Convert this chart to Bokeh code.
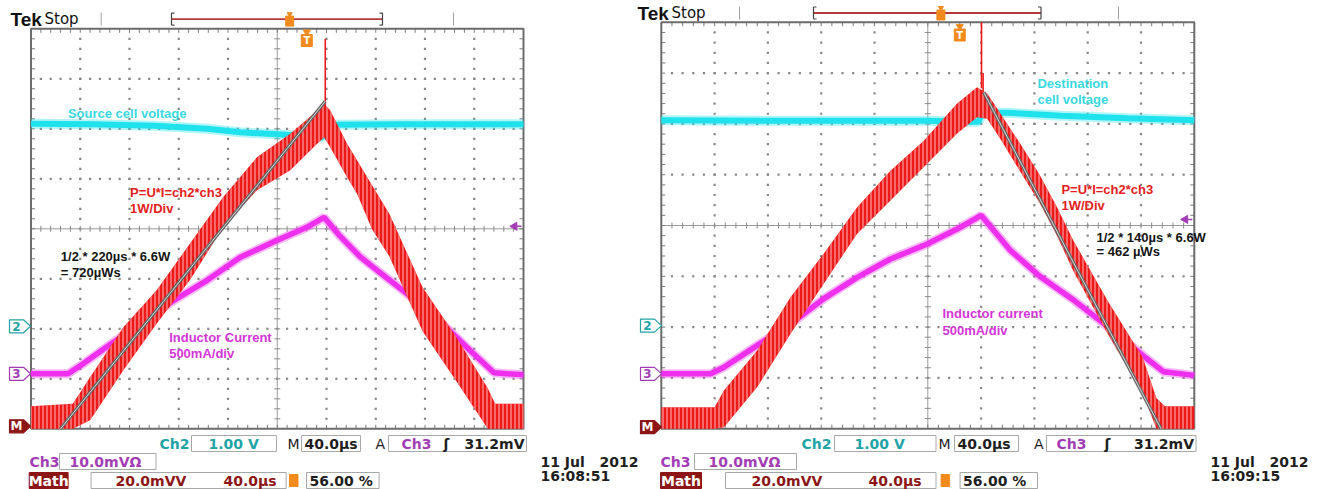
import numpy as np
from bokeh.plotting import figure
from bokeh.models import Range1d
from bokeh.core.properties import value
from bokeh.embed import file_html
from bokeh.resources import INLINE

# ---------------- values read from the two screen captures ----------------
# x: time in µs (40 µs/div, screen centre = 0 µs); y: screen divisions (-4 .. 4)
TRIGGER_POS_PCT = 56.0

# Left capture (source cell, 16:08:51)
L_cyan_t = [-200, -150, -100, -57, -30, 0, 20, 37, 39, 45, 100, 150, 200]
L_cyan_y = [2.10, 2.09, 2.06, 2.00, 1.93, 1.89, 1.86, 1.83, 2.00, 2.08, 2.09, 2.09, 2.09]
L_mag_t = [-200, -170, -160, -139, -111, -84, -57, -30, 0, 24, 38, 50, 67, 77, 105, 132, 159, 176, 200]
L_mag_y = [-2.90, -2.90, -2.74, -2.37, -1.90, -1.43, -1.03, -0.57, -0.23, 0.03, 0.23,
           -0.12, -0.55, -0.75, -1.29, -1.85, -2.49, -2.88, -2.92]
L_red_t = [-200, -166, -152, -125, -98, -71, -44, -16.5, 10.6, 29.5, 38, 43, 56.7, 64.8,
           77, 91, 118, 145.5, 171, 177, 200]
L_red_hi = [-3.55, -3.50, -2.97, -1.97, -1.23, -0.30, 0.63, 1.43, 1.90, 2.30, 2.50, 2.37,
            1.70, 1.37, 0.87, 0.30, -1.17, -2.17, -3.19, -3.50, -3.50]
L_red_lo = [-4.0, -4.0, -3.83, -2.83, -1.90, -1.03, 0.03, 0.77, 1.17, 1.63, 1.83, 1.63,
            1.03, 0.70, -0.01, -0.55, -2.05, -3.05, -4.0, -4.0, -4.0]
L_spike_t, L_spike_lo, L_spike_hi = [39.0], [2.45], [3.80]
L_fit_t, L_fit_y = [-176, 39], [-4.0, 2.55]

# Right capture (destination cell, 16:09:15)
R_cyan_t = [-200, -100, 0, 30, 38, 41, 60, 100, 150, 200]
R_cyan_y = [2.07, 2.06, 2.06, 2.04, 2.04, 2.22, 2.22, 2.16, 2.11, 2.07]
R_mag_t = [-200, -163, -153, -128, -103, -78, -53, -28, 0, 22, 40, 62, 84, 109, 136, 161, 177, 200]
R_mag_y = [-2.92, -2.92, -2.79, -2.36, -1.94, -1.44, -1.02, -0.66, -0.36, -0.07, 0.20,
           -0.49, -1.00, -1.46, -2.01, -2.55, -2.88, -2.95]
R_red_t = [-200, -160, -153, -128, -103, -78, -53, -28, -3, 22, 37, 44.6, 54.6, 70.8, 83.9,
           96.6, 109.3, 135.4, 161.3, 171.6, 178, 200]
R_red_hi = [-3.58, -3.58, -3.25, -2.46, -1.41, -0.55, 0.36, 1.08, 1.67, 2.40, 2.72, 2.60,
            2.20, 1.55, 1.00, 0.38, -0.30, -1.50, -2.60, -3.40, -3.56, -3.56]
R_red_lo = [-4.0, -4.0, -3.97, -3.18, -2.13, -1.14, -0.16, 0.49, 1.15, 1.81, 2.13, 2.10,
            1.70, 1.00, 0.45, -0.18, -0.90, -2.15, -3.30, -4.0, -4.0, -4.0]
R_spike_t, R_spike_lo, R_spike_hi = [40.3, 41.5], [2.70, 2.60], [4.00, 3.00]
R_fit_t, R_fit_y = [42, 175], [2.62, -4.0]

# reference markers (divisions) and trigger level, per capture [left, right]
CH2_GND = [-1.95, -1.97]
CH3_GND = [-2.90, -2.92]
MATH_REF = [-3.95, -3.97]
TRIG_LEVEL = [0.05, 0.12]

# in-screen annotations: (t, div, text)
L_notes = {
    "cyan": [(-170, 2.31, "Source cell voltage")],
    "red": [(-119.5, 0.73, "P=U*I=ch2*ch3"), (-119.5, 0.41, "1W/Div")],
    "black": [(-175.8, -0.55, "1/2 * 220µs * 6.6W"), (-175.8, -0.87, "= 720µWs")],
    "mag": [(-87.8, -2.18, "Inductor Current"), (-87.8, -2.50, "500mA/div")],
}
R_notes = {
    "cyan": [(82.3, 2.80, "Destination"), (82.3, 2.48, "cell voltage")],
    "red": [(100.3, 0.71, "P=U*I=ch2*ch3"), (100.3, 0.39, "1W/Div")],
    "black": [(126.6, -0.23, "1/2 * 140µs * 6.6W"), (126.6, -0.51, "= 462 µWs")],
    "mag": [(11, -1.73, "Inductor current"), (11, -2.07, "500mA/div")],
}

# read-outs
CH2_SCALE = "1.00 V"
CH3_SCALE = "10.0mVΩ"
MATH_SCALE = ["20.0mVV", "40.0µs"]
TIMEBASE = "40.0µs"
TRIG_TXT = "31.2mV"
POS_TXT = "56.00 %"
DATES = ["11 Jul\u00a0\u00a0 2012", "11 Jul\u00a0\u00a0 2012"]
TIMES = ["16:08:51", "16:09:15"]

# ---------------- page geometry ----------------
W, H = 1329, 489
REF_X0 = 0.0
REF_Y0 = 0.0
KY = 1.0

def cx(rx):
    return rx - REF_X0

def cy(ry):
    return (ry - REF_Y0) * KY


class Panel:
    def __init__(self, left, right, top, bottom):
        self.ppx = (right - left) / 400.0
        self.ppy = (cy(bottom) - cy(top)) / 8.0
        self.x_start = -200 - cx(left) / self.ppx
        self.x_end = self.x_start + W / self.ppx
        self.y_end = 4 + cy(top) / self.ppy
        self.y_start = self.y_end - H / self.ppy

    def X(self, rx):
        return self.x_start + cx(rx) / self.ppx

    def Y(self, ry):
        return self.y_end - cy(ry) / self.ppy

    def dx(self, px):
        return px / self.ppx

    def dy(self, px):
        return px / self.ppy


LP = Panel(30.5, 523.0, 28.3, 428.3)
RP = Panel(660.8, 1193.8, 21.8, 428.2)

p = figure(width=W, height=H, x_range=Range1d(LP.x_start, LP.x_end),
           y_range=Range1d(LP.y_start, LP.y_end), x_axis_type=None, y_axis_type=None,
           toolbar_location=None, output_backend="svg", min_border=0)
p.outline_line_color = None
p.background_fill_color = "white"
p.border_fill_color = "white"
p.extra_x_ranges = {"rx": Range1d(RP.x_start, RP.x_end)}
p.extra_y_ranges = {"ry": Range1d(RP.y_start, RP.y_end)}

CYAN = "#1fe2ec"
MAG = "#ee30ee"
RED = "#ee1a1a"
TEAL = "#22a3a6"
PURPLE = "#a23db5"
DARKRED = "#8c1616"
ORANGE = "#f28a1e"
BLACK = "#1e1e1e"
GRID = "#7c7c7c"
BOXLINE = "#a8a8a8"

RO_FONT = value("DejaVu Sans")
NOTE_FONT = value("Liberation Sans")


def txt(kw, x, y, s, color, size="14px", font=RO_FONT, style="bold", align="left"):
    p.text(x=[x], y=[y], text=[s], text_color=color, text_font=font, text_font_size=size,
           text_font_style=style, text_align=align, text_baseline="middle", **kw)


def draw_panel(P, kw, d, idx):
    # ---- graticule ----
    vx = [-160, -120, -80, -40, 40, 80, 120, 160]
    ys = np.arange(-3.8, 3.81, 0.2)
    dots_x = [x for x in vx for _ in ys]
    dots_y = [y for _ in vx for y in ys]
    hy = [-3, -2, -1, 1, 2, 3]
    xs = np.arange(-192, 192.1, 8)
    dots_x += [x for _ in hy for x in xs]
    dots_y += [y for y in hy for _ in xs]
    p.scatter(dots_x, dots_y, marker="square", size=2.2, fill_color="#888888", line_color=None, **kw)
    p.segment(x0=[-200, 0], y0=[0, -4], x1=[200, 0], y1=[0, 4], line_color="#9a9a9a",
              line_width=1, **kw)
    tt = np.arange(-192, 192.1, 8)
    p.segment(x0=tt, y0=-P.dy(3), x1=tt, y1=P.dy(3), line_color="#8a8a8a", line_width=1, **kw)
    tv = np.arange(-3.8, 3.81, 0.2)
    p.segment(x0=-P.dx(3), y0=tv, x1=P.dx(3), y1=tv, line_color="#8a8a8a", line_width=1, **kw)
    p.segment(x0=tt, y0=4, x1=tt, y1=4 - P.dy(4), line_color=GRID, line_width=1, **kw)
    p.segment(x0=tt, y0=-4, x1=tt, y1=-4 + P.dy(4), line_color=GRID, line_width=1, **kw)
    p.segment(x0=-200, y0=tv, x1=-200 + P.dx(4), y1=tv, line_color=GRID, line_width=1, **kw)
    p.segment(x0=200, y0=tv, x1=200 - P.dx(4), y1=tv, line_color=GRID, line_width=1, **kw)
    p.quad(left=[-200], right=[200], bottom=[-4], top=[4], fill_color=None,
           line_color="#6c6c6c", line_width=2, **kw)

    # ---- traces ----
    p.line(d["cyan_t"], d["cyan_y"], line_color=CYAN, line_width=10, line_alpha=0.35, **kw)
    p.line(d["cyan_t"], d["cyan_y"], line_color=CYAN, line_width=6, **kw)
    p.line(d["mag_t"], d["mag_y"], line_color=MAG, line_width=9, line_alpha=0.35, **kw)
    p.line(d["mag_t"], d["mag_y"], line_color=MAG, line_width=5.5, **kw)
    p.varea(x=d["red_t"], y1=d["red_lo"], y2=d["red_hi"], fill_color=RED,
            hatch_pattern="vertical_line", hatch_color="#ff9d9d", hatch_scale=4,
            hatch_weight=1.2, **kw)
    p.segment(x0=d["spike_t"], y0=d["spike_lo"], x1=d["spike_t"], y1=d["spike_hi"],
              line_color=RED, line_width=1.6, **kw)
    p.line(d["fit_t"], d["fit_y"], line_color="#666666", line_width=3.4, **kw)
    p.line(d["fit_t"], d["fit_y"], line_color="#d6d6d6", line_width=1, **kw)

    # ---- annotations ----
    cols = {"cyan": "#37d9e2", "red": "#e52020", "black": "#151515", "mag": "#d535d8"}
    for key, items in d["notes"].items():
        for (x, y, s) in items:
            txt(kw, x, y, s, cols[key], size="13px", font=NOTE_FONT)

    # ---- left-edge channel markers ----
    mx0, mx1, mx2 = d["mark_x"]
    for yc, fill, edge, lab, tcol in [(CH2_GND[idx], "white", TEAL, "2", TEAL),
                                      (CH3_GND[idx], "white", PURPLE, "3", PURPLE),
                                      (MATH_REF[idx], DARKRED, DARKRED, "M", "white")]:
        h = P.dy(6.5)
        p.patch([P.X(mx0), P.X(mx1), P.X(mx2), P.X(mx1), P.X(mx0)],
                [yc + h, yc + h, yc, yc - h, yc - h], fill_color=fill, line_color=edge,
                line_width=1.2, **kw)
        txt(kw, (P.X(mx0) + P.X(mx1)) / 2, yc, lab, tcol, size="12px", align="center")

    # ---- trigger level arrow (right edge) ----
    tl = TRIG_LEVEL[idx]
    p.segment(x0=[200 - P.dx(9)], y0=[tl], x1=[200 - P.dx(2)], y1=[tl], line_color=PURPLE,
              line_width=1.5, **kw)
    p.scatter([200 - P.dx(9)], [tl], marker="triangle", size=8, angle=np.pi / 2,
              fill_color=PURPLE, line_color=PURPLE, **kw)

    # ---- trigger position marker (top of screen) ----
    tpos = -200 + TRIGGER_POS_PCT / 100.0 * 400
    ttop = d["tmark_top"]
    p.scatter([tpos], [P.Y(ttop + 2.5)], marker="inverted_triangle", size=7,
              fill_color=ORANGE, line_color=ORANGE, **kw)
    p.quad(left=[tpos - P.dx(5.5)], right=[tpos + P.dx(5.5)], top=[P.Y(ttop + 5)],
           bottom=[P.Y(ttop + 17)], fill_color=ORANGE, line_color=ORANGE, **kw)
    txt(kw, tpos, P.Y(ttop + 11), "T", "white", size="10px", align="center")

    # ---- header ----
    hy_ = d["head_y"]
    txt(kw, P.X(d["tek_x"]), P.Y(hy_), "Tek", "#111111", size="19px",
        font=value("Liberation Sans"))
    txt(kw, P.X(d["tek_x"] + 34), P.Y(hy_), "Stop", "#111111", size="15px", style="normal")
    for tx in d["head_ticks"]:
        p.segment(x0=[P.X(tx)], y0=[P.Y(hy_ - 6.5)], x1=[P.X(tx)], y1=[P.Y(hy_ + 6.5)],
                  line_color="#a0a0a0", line_width=1, **kw)
    b0, b1 = d["bracket"]
    p.segment(x0=[P.X(b0)], y0=[P.Y(hy_)], x1=[P.X(b1)], y1=[P.Y(hy_)],
              line_color="#b43a3a", line_width=1.8, **kw)
    for bx, sgn in [(b0, 1), (b1, -1)]:
        p.segment(x0=[P.X(bx), P.X(bx), P.X(bx)],
                  y0=[P.Y(hy_ - 6), P.Y(hy_ - 6), P.Y(hy_ + 6)],
                  x1=[P.X(bx), P.X(bx + sgn * 3), P.X(bx + sgn * 3)],
                  y1=[P.Y(hy_ + 6), P.Y(hy_ - 6), P.Y(hy_ + 6)],
                  line_color="#444444", line_width=1.2, **kw)
    ux = b0 + TRIGGER_POS_PCT / 100.0 * (b1 - b0)
    p.scatter([P.X(ux)], [P.Y(hy_ - 5)], marker="inverted_triangle", size=5,
              fill_color=ORANGE, line_color=ORANGE, **kw)
    p.quad(left=[P.X(ux - 4)], right=[P.X(ux + 4)], top=[P.Y(hy_ - 3)], bottom=[P.Y(hy_ + 7)],
           fill_color=ORANGE, line_color=ORANGE, **kw)

    # ---- read-outs ----
    r1, r2, r3 = 443, 461, 480
    def box(l, r, yc, fill="white", line=BOXLINE):
        p.quad(left=[P.X(l)], right=[P.X(r)], top=[P.Y(yc - 8)], bottom=[P.Y(yc + 8)],
               fill_color=fill, line_color=line, line_width=1, **kw)
    o = d["ro"]
    txt(kw, P.X(o["ch2"]), P.Y(r1), "Ch2", TEAL)
    box(*o["b1"], r1)
    txt(kw, P.X(o["b1"][0] + o["pad1"]), P.Y(r1), CH2_SCALE, TEAL)
    txt(kw, P.X(o["m"]), P.Y(r1), "M", BLACK, style="normal")
    box(*o["b2"], r1)
    txt(kw, P.X(o["b2"][0] + 3), P.Y(r1), TIMEBASE, BLACK)
    txt(kw, P.X(o["a"]), P.Y(r1), "A", BLACK, style="normal")
    box(*o["b3"], r1)
    txt(kw, P.X(o["b3"][0] + o["pad3"]), P.Y(r1), "Ch3", PURPLE)
    txt(kw, P.X(o["slope"]), P.Y(r1), "ʃ", BLACK)
    txt(kw, P.X(o["b3"][1] - 2), P.Y(r1), TRIG_TXT, BLACK, align="right")
    txt(kw, P.X(o["ch3"]), P.Y(r2), "Ch3", PURPLE)
    box(*o["b4"], r2)
    txt(kw, P.X(o["b4"][0] + o["pad4"]), P.Y(r2), CH3_SCALE, PURPLE)
    box(*o["bm"], r3, fill=DARKRED, line=DARKRED)
    txt(kw, (P.X(o["bm"][0]) + P.X(o["bm"][1])) / 2, P.Y(r3), "Math", "white", align="center")
    box(*o["b5"], r3)
    txt(kw, P.X(o["mt1"]), P.Y(r3), MATH_SCALE[0], DARKRED)
    txt(kw, P.X(o["mt2"]), P.Y(r3), MATH_SCALE[1], DARKRED)
    ox = o["ic"]
    p.quad(left=[P.X(ox)], right=[P.X(ox + 8.5)], top=[P.Y(r3 - 6)], bottom=[P.Y(r3 + 6)],
           fill_color=ORANGE, line_color=ORANGE, **kw)
    box(*o["b6"], r3)
    txt(kw, P.X(o["b6"][0] + 3), P.Y(r3), POS_TXT, BLACK)
    txt(kw, P.X(o["date"]), P.Y(461), DATES[idx], BLACK)
    txt(kw, P.X(o["date"]), P.Y(475), TIMES[idx], BLACK)


left = dict(cyan_t=L_cyan_t, cyan_y=L_cyan_y, mag_t=L_mag_t, mag_y=L_mag_y, red_t=L_red_t,
            red_hi=L_red_hi, red_lo=L_red_lo, spike_t=L_spike_t, spike_lo=L_spike_lo,
            spike_hi=L_spike_hi, fit_t=L_fit_t, fit_y=L_fit_y, notes=L_notes,
            mark_x=(9, 23, 30), tmark_top=29, head_y=18.6, tek_x=10,
            head_ticks=[100.7, 453], bracket=(171, 382),
            ro=dict(ch2=159, b1=(191, 276), pad1=17, m=287, b2=(301, 360), a=375,
                    b3=(388, 526), pad3=13, slope=443, ch3=29, b4=(59, 155.5), pad4=10,
                    bm=(28.7, 67.6), b5=(90.6, 285.7), mt1=115, mt2=223, ic=289,
                    b6=(306, 378.6), date=540))
right = dict(cyan_t=R_cyan_t, cyan_y=R_cyan_y, mag_t=R_mag_t, mag_y=R_mag_y, red_t=R_red_t,
             red_hi=R_red_hi, red_lo=R_red_lo, spike_t=R_spike_t, spike_lo=R_spike_lo,
             spike_hi=R_spike_hi, fit_t=R_fit_t, fit_y=R_fit_y, notes=R_notes,
             mark_x=(640, 654, 661), tmark_top=23.5, head_y=12.5, tek_x=637,
             head_ticks=[739, 1118], bracket=(813, 1040.5),
             ro=dict(ch2=801, b1=(834, 935.5), pad1=20, m=938, b2=(954, 1018), a=1033.6,
                     b3=(1046, 1195.5), pad3=10, slope=1104, ch3=660, b4=(694, 796), pad4=14,
                     bm=(660, 701), b5=(725, 935.5), mt1=751, mt2=868, ic=940.6,
                     b6=(959.6, 1037), date=1210))

draw_panel(LP, {}, left, 0)
draw_panel(RP, {"x_range_name": "rx", "y_range_name": "ry"}, right, 1)

open("out.html", "w").write(file_html(p, INLINE))
